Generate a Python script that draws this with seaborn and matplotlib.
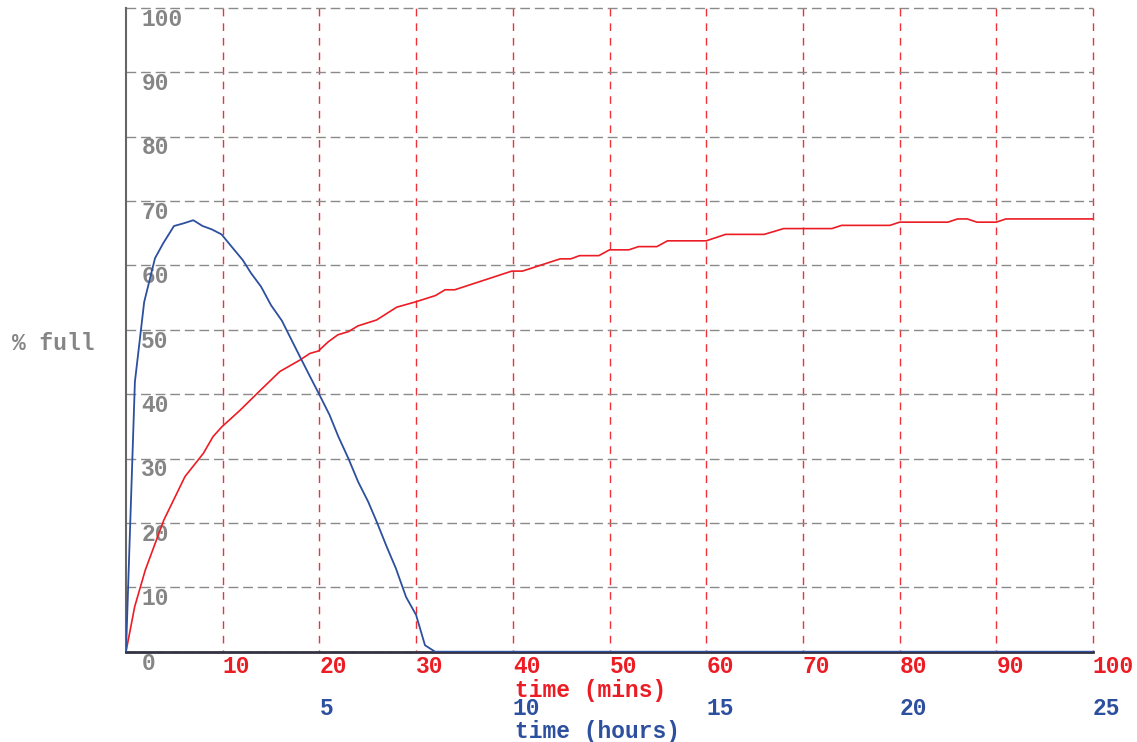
import matplotlib
matplotlib.use("Agg")
import matplotlib.pyplot as plt
import seaborn as sns

# red series: % full against time in minutes
mins = [0, 0.9, 2, 3.9, 6.1, 8, 9, 9.9, 11.8, 13.9, 15.9, 18, 19, 19.9, 20.9,
        21.9, 23, 24, 25.9, 28, 29.9, 32, 33, 34, 39.9, 41, 44.9, 46, 46.9,
        48.9, 50, 52, 53, 54.9, 56, 60, 62, 66, 68, 73, 74, 79, 80, 85, 86,
        87, 88, 90, 91, 100]
pct_mins = [0, 7, 12.7, 20.4, 27.2, 30.8, 33.4, 34.9, 37.5, 40.6, 43.5, 45.3,
            46.3, 46.7, 48.1, 49.2, 49.7, 50.6, 51.5, 53.5, 54.3, 55.3, 56.2,
            56.2, 59.1, 59.1, 61, 61, 61.5, 61.5, 62.4, 62.4, 62.9, 62.9, 63.8,
            63.8, 64.8, 64.8, 65.7, 65.7, 66.2, 66.2, 66.7, 66.7, 67.2, 67.2,
            66.7, 66.7, 67.2, 67.2]

# blue series: % full against time in hours
hours = [0, 0.23, 0.47, 0.75, 0.96, 1.24, 1.48, 1.74, 1.98, 2.21, 2.47, 2.73,
         3.02, 3.23, 3.49, 3.75, 4.03, 4.28, 4.54, 4.76, 5.0, 5.26, 5.49, 5.75,
         6.0, 6.26, 6.48, 6.74, 6.98, 7.24, 7.5, 7.73, 7.99, 25]
pct_hours = [0, 41.9, 54.3, 61.1, 63.4, 66.1, 66.5, 67.0, 66.1, 65.6, 64.8,
             62.9, 60.8, 58.8, 56.7, 53.8, 51.4, 48.4, 45.3, 42.7, 39.9, 36.8,
             33.4, 30.0, 26.4, 23.3, 20.2, 16.3, 12.9, 8.5, 5.7, 1.0, 0, 0]

min_ticks = [10, 20, 30, 40, 50, 60, 70, 80, 90, 100]
hour_ticks = [5, 10, 15, 20, 25]
pct_ticks = [0, 10, 20, 30, 40, 50, 60, 70, 80, 90, 100]

RED = "#ec1c24"
BLUE = "#2c4f9e"
GREY = "#858585"

sns.set_style("white")
plt.rcParams["font.family"] = ["Liberation Mono", "DejaVu Sans Mono"]
plt.rcParams["font.weight"] = "bold"
plt.rcParams["axes.labelweight"] = "bold"
plt.rcParams["font.size"] = 16.5

fig = plt.figure(figsize=(11.37, 7.42), dpi=100)
ax = fig.add_axes([126 / 1137, (742 - 651.7) / 742, 967 / 1137, 644 / 742])

sns.lineplot(x=mins, y=pct_mins, ax=ax, color=RED, linewidth=1.2)
ax.set_xlim(0, 100)
ax.set_ylim(0, 100)

ax.set_xticks(min_ticks)
ax.set_xticklabels([str(t) for t in min_ticks], ha="left", color=RED)
ax.set_yticks(pct_ticks)
ax.set_yticklabels([str(t) for t in pct_ticks], ha="left", va="top", color=GREY)
ax.tick_params(axis="x", length=0, pad=2.5)
ax.tick_params(axis="y", length=0, pad=-11)

ax.grid(axis="y", color="#8a8a8a", linestyle=(0, (7, 3.5)), linewidth=1)
ax.grid(axis="x", color=RED, linestyle=(4, (5.5, 5)), linewidth=1, alpha=0.9)
for gl in ax.get_xgridlines() + ax.get_ygridlines():
    gl.set_clip_on(False)

for s in ["top", "right"]:
    ax.spines[s].set_visible(False)
ax.spines["left"].set_color("#666666")
ax.spines["left"].set_linewidth(1.5)
ax.spines["bottom"].set_color("#333344")
ax.spines["bottom"].set_linewidth(2)

ax.set_ylabel("% full", rotation=0, ha="left", va="center", color=GREY)
ax.yaxis.set_label_coords(-0.1179, 0.479)
ax.set_xlabel("time (mins)", ha="left", va="center", color=RED)
ax.xaxis.set_label_coords(0.4023, -0.0595)

ax2 = ax.twiny()
sns.lineplot(x=hours, y=pct_hours, ax=ax2, color=BLUE, linewidth=1.3)
ax2.set_xlim(0, 25)
ax2.set_ylim(0, 100)
ax2.xaxis.set_ticks_position("bottom")
ax2.xaxis.set_label_position("bottom")
ax2.set_xticks(hour_ticks)
ax2.set_xticklabels([str(t) for t in hour_ticks], ha="left", color=BLUE)
ax2.tick_params(axis="x", length=0, pad=32.5)
for s in ax2.spines.values():
    s.set_visible(False)
ax2.set_xlabel("time (hours)", ha="left", va="center", color=BLUE)
ax2.xaxis.set_label_coords(0.4023, -0.124)

fig.savefig("out.png", dpi=100)
